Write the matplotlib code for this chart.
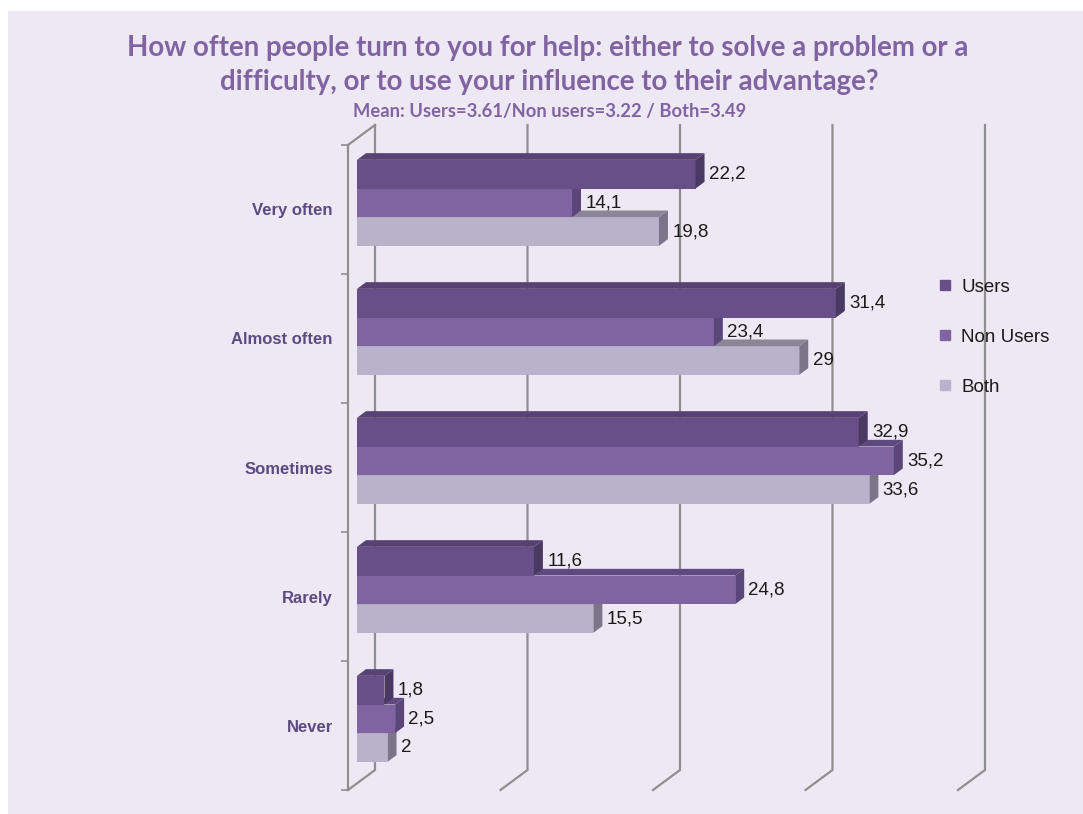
import matplotlib
matplotlib.use("Agg")
import matplotlib.pyplot as plt
from matplotlib.patches import Polygon, Rectangle
from matplotlib.lines import Line2D

# ---- data -------------------------------------------------------------
categories = ["Very often", "Almost often", "Sometimes", "Rarely", "Never"]
series_names = ["Users", "Non Users", "Both"]
users = [22.2, 31.4, 32.9, 11.6, 1.8]
non_users = [14.1, 23.4, 35.2, 24.8, 2.5]
both = [19.8, 29.0, 33.6, 15.5, 2.0]
value_ticks = [0, 10, 20, 30, 40]

title_lines = [
    "How often people turn to you for help: either to solve a problem or a",
    "difficulty, or to use your influence to their advantage?",
]
subtitle = "Mean: Users=3.61/Non users=3.22 / Both=3.49"

# ---- style ------------------------------------------------------------
BG = "#EEE8F4"
GRID = "#8F8F8F"
TITLE_C = "#8064A2"
CAT_C = "#5E4A82"
# (front, top, side) shades for each series
SHADES = [
    ("#684F87", "#574273", "#4A3963"),
    ("#8064A2", "#5F4A80", "#5A4679"),
    ("#BAB1CB", "#8C8597", "#7C7489"),
]

W, H = 1083, 814
fig = plt.figure(figsize=(W / 100, H / 100), dpi=100)
fig.patch.set_facecolor("white")
fig.patches.append(Rectangle((8 / W, 0), 1 - 8 / W, 1 - 11 / H,
                             transform=fig.transFigure, facecolor=BG,
                             edgecolor="none", zorder=-10))

# front plane of the 3-D box
ax = fig.add_axes([348 / W, 24 / H, 610 / W, 645 / H])
ax.set_facecolor("none")
ax.set_xlim(0, 40)
ax.set_ylim(len(categories), 0)

# depth vector of the box (data units): right and up
DX, DY = 1.77, -0.155


def pt(v, c, d):
    return (v + d * DX, c + d * DY)


# back wall verticals and floor diagonals
for v in value_ticks:
    x0, y0 = pt(v, 0, 1)
    x1, y1 = pt(v, len(categories), 1)
    x2, y2 = pt(v, len(categories), 0)
    ax.plot([x0, x1, x2], [y0, y1, y2], color=GRID, lw=1.6,
            clip_on=False, zorder=1, solid_joinstyle="miter")
# top edge of the side wall
xa, ya = pt(0, 0, 0)
xb, yb = pt(0, 0, 1)
ax.plot([xa, xb], [ya, yb], color=GRID, lw=1.6, clip_on=False, zorder=1)

# category axis (front left edge)
for s in ["top", "right", "bottom"]:
    ax.spines[s].set_visible(False)
ax.spines["left"].set_color(GRID)
ax.spines["left"].set_linewidth(1.6)
ax.set_xticks([])
ax.set_yticks([i + 0.5 for i in range(len(categories))])
ax.set_yticklabels(categories, fontsize=12, fontweight="bold",
                   color=CAT_C, family="Liberation Sans")
ax.tick_params(axis="y", which="major", length=0, pad=11)
ax.set_yticks(range(len(categories) + 1), minor=True)
ax.tick_params(axis="y", which="minor", length=5, width=1.2, color=GRID)

# ---- bars -------------------------------------------------------------
series = [users, non_users, both]
h = 1 / 4.5
for j in [2, 1, 0]:
    front, top, side = SHADES[j]
    vals = series[j]
    z = 2 + (2 - j)
    ys = [i + 0.5 + (j - 1) * h for i in range(len(categories))]
    ax.barh([y + DY / 3 for y in ys], vals, left=DX / 3, height=h,
            color=front, edgecolor="none", zorder=z, clip_on=False)
    for y, v in zip(ys, vals):
        yt, yb_ = y - h / 2, y + h / 2
        ax.add_patch(Polygon([pt(0, yt, 1 / 3), pt(v, yt, 1 / 3),
                              pt(v, yt, 2 / 3), pt(0, yt, 2 / 3)],
                             closed=True, facecolor=top, edgecolor="none",
                             zorder=z, clip_on=False))
        ax.add_patch(Polygon([pt(v, yt, 1 / 3), pt(v, yb_, 1 / 3),
                              pt(v, yb_, 2 / 3), pt(v, yt, 2 / 3)],
                             closed=True, facecolor=side, edgecolor="none",
                             zorder=z, clip_on=False))
        # value label just past the bar's side face
        lx, _ = pt(v, y, 2 / 3)
        _, ly = pt(v, y, 1 / 3)
        ax.text(lx + 0.28, ly, f"{v:g}".replace(".", ","), fontsize=13.5,
                family="Liberation Sans", color="#1A1A1A",
                ha="left", va="center", zorder=6, clip_on=False)

# ---- legend -----------------------------------------------------------
handles = [Line2D([], [], marker="s", linestyle="none", markersize=7.5,
                  markerfacecolor=SHADES[k][0], markeredgecolor=SHADES[k][0])
           for k in range(3)]
fig.legend(handles, series_names, loc="center left",
           bbox_to_anchor=(938 / W, 1 - 337 / H), frameon=False,
           prop={"family": "Liberation Sans", "size": 13.5},
           labelspacing=1.75, handlelength=0.8, handletextpad=0.45,
           borderpad=0, borderaxespad=0, labelcolor="#1A1A1A")

# ---- titles -----------------------------------------------------------
fig.text(548 / W, 1 - 48 / H, title_lines[0], ha="center", va="center",
         fontsize=19.9, fontweight="bold", color=TITLE_C, family="Lato")
fig.text(549 / W, 1 - 82 / H, title_lines[1], ha="center", va="center",
         fontsize=19.9, fontweight="bold", color=TITLE_C, family="Lato")
fig.text(550 / W, 1 - 112 / H, subtitle, ha="center", va="center",
         fontsize=13.2, fontweight="bold", color=TITLE_C, family="Lato")

fig.savefig("out.png", dpi=100, facecolor=fig.get_facecolor())
